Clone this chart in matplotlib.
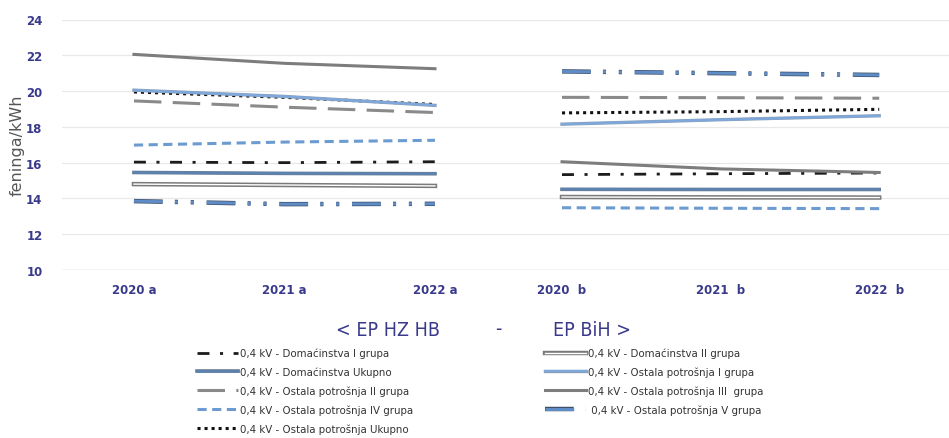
import matplotlib
matplotlib.use('Agg')
import matplotlib.pyplot as plt
import matplotlib.patheffects as pe
from matplotlib import font_manager

# categories (left: EP HZ HB, right: EP BiH)
years_a = ['2020 a', '2021 a', '2022 a']
years_b = ['2020  b', '2021  b', '2022  b']

labels = ['0,4 kV - Domaćinstva I grupa',
          '0,4 kV - Domaćinstva Ukupno',
          '0,4 kV - Ostala potrošnja II grupa',
          '0,4 kV - Ostala potrošnja IV grupa',
          '0,4 kV - Ostala potrošnja Ukupno',
          '0,4 kV - Domaćinstva II grupa',
          '0,4 kV - Ostala potrošnja I grupa',
          '0,4 kV - Ostala potrošnja III  grupa',
          ' 0,4 kV - Ostala potrošnja V grupa']

# feninga/kWh, EP HZ HB
dom_1_a = [16.03, 16.0, 16.05]
dom_uk_a = [15.45, 15.4, 15.38]
ost_2_a = [19.45, 19.1, 18.8]
ost_4_a = [16.98, 17.15, 17.25]
ost_uk_a = [19.95, 19.65, 19.25]
dom_2_a = [14.8, 14.75, 14.7]
ost_1_a = [20.05, 19.7, 19.2]
ost_3_a = [22.05, 21.55, 21.25]
ost_5_a = [13.85, 13.68, 13.7]

# feninga/kWh, EP BiH
dom_1_b = [15.33, 15.38, 15.42]
dom_uk_b = [14.51, 14.5, 14.5]
ost_2_b = [19.65, 19.63, 19.6]
ost_4_b = [13.48, 13.45, 13.43]
ost_uk_b = [18.78, 18.85, 18.98]
dom_2_b = [14.08, 14.06, 14.05]
ost_1_b = [18.15, 18.4, 18.62]
ost_3_b = [16.05, 15.65, 15.45]
ost_5_b = [21.1, 21.0, 20.9]

values_a = [dom_1_a, dom_uk_a, ost_2_a, ost_4_a, ost_uk_a, dom_2_a, ost_1_a, ost_3_a, ost_5_a]
values_b = [dom_1_b, dom_uk_b, ost_2_b, ost_4_b, ost_uk_b, dom_2_b, ost_1_b, ost_3_b, ost_5_b]

# line styles per series
styles = [
    dict(color='#1c1c1c', lw=2.0, ls=(0, (4.3, 3.8, 1.1, 3.8))),
    dict(color='#5b82b0', lw=1.8, ls='-',
         path_effects=[pe.Stroke(linewidth=2.6, foreground='#6b7d92'), pe.Normal()]),
    dict(color='#8a8a8a', lw=2.2, ls=(0, (9, 3.7))),
    dict(color='#6c9bd2', lw=2.2, ls=(0, (3, 1.8))),
    dict(color='#111111', lw=2.2, ls=(0, (1, 1.3))),
    dict(color='white', lw=1.0, ls='-',
         path_effects=[pe.Stroke(linewidth=3.2, foreground='#7a7a7a'), pe.Normal()]),
    dict(color='#7ea8dc', lw=1.6, ls='-',
         path_effects=[pe.Stroke(linewidth=2.4, foreground='#8aa0bb'), pe.Normal()]),
    dict(color='#7d7d7d', lw=2.2, ls='-'),
    dict(color='#5f8cc4', lw=2.2, ls=(0, (9.4, 4, 1, 4.2, 1, 4.2)),
         path_effects=[pe.Stroke(linewidth=3.2, foreground='#3d4f68'), pe.Normal()]),
]

names = {f.name for f in font_manager.fontManager.ttflist}
narrow = 'Liberation Sans Narrow' if 'Liberation Sans Narrow' in names else 'DejaVu Sans'

navy = '#3a3a8c'
fig = plt.figure(figsize=(9.49, 4.39), dpi=100)
W, H = 949, 439
bottom = (H - 271) / H
top = (H - 20.5) / H
ax1 = fig.add_axes([62 / W, bottom, (500 - 62) / W, top - bottom])
ax2 = fig.add_axes([500 / W, bottom, (949 - 500) / W, top - bottom], sharey=ax1)

lines = []
for vals, st in zip(values_a, styles):
    ln, = ax1.plot(years_a, vals, color=st['color'], lw=st['lw'], linestyle=st['ls'],
                   path_effects=st.get('path_effects'))
    lines.append(ln)
for vals, st in zip(values_b, styles):
    ax2.plot(years_b, vals, color=st['color'], lw=st['lw'], linestyle=st['ls'],
             path_effects=st.get('path_effects'))

ax1.set_xlim(-0.478, 2.432)
ax2.set_xlim(-0.391, 2.44)
ax1.set_ylim(10, 24)
ax1.set_yticks(range(10, 25, 2))

for ax in (ax1, ax2):
    for s in ax.spines.values():
        s.set_visible(False)
    ax.grid(axis='y', color='#e8e8e8', lw=0.9)
    ax.axhline(10, color='#d6d6d6', lw=1.0, zorder=0)
    ax.set_axisbelow(True)
    ax.tick_params(axis='both', length=0, labelcolor=navy, labelsize=8.5)
    ax.tick_params(axis='x', pad=9)
    for t in ax.get_xticklabels():
        t.set_fontweight('bold')
ax1.tick_params(axis='y', pad=14)
for t in ax1.get_yticklabels():
    t.set_fontweight('bold')
ax2.tick_params(axis='y', labelleft=False)
ax1.set_ylabel('feninga/kWh', color='#555555', fontsize=11.5, labelpad=1)

# group captions
cap_kw = dict(ha='center', va='center', color=navy, fontsize=14,
              family=narrow, fontstretch='condensed')
fig.text(388 / W, 1 - 330 / H, '< EP HZ HB', **cap_kw)
fig.text(498 / W, 1 - 330 / H, '-', **cap_kw)
fig.text(592 / W, 1 - 330 / H, 'EP BiH >', **cap_kw)

leg_font = font_manager.FontProperties(family=narrow, size=8.2, stretch='condensed')
leg_kw = dict(loc='upper left', frameon=False, borderpad=0, borderaxespad=0,
              handlelength=3.6, handletextpad=0.15, labelspacing=0.74,
              prop=leg_font, labelcolor='#333333')
fig.legend(lines[:5], labels[:5], bbox_to_anchor=(197 / W, 1 - 349 / H), **leg_kw)
fig.legend(lines[5:], labels[5:], bbox_to_anchor=(545 / W, 1 - 349 / H), **leg_kw)

fig.savefig('out.png', dpi=100)
